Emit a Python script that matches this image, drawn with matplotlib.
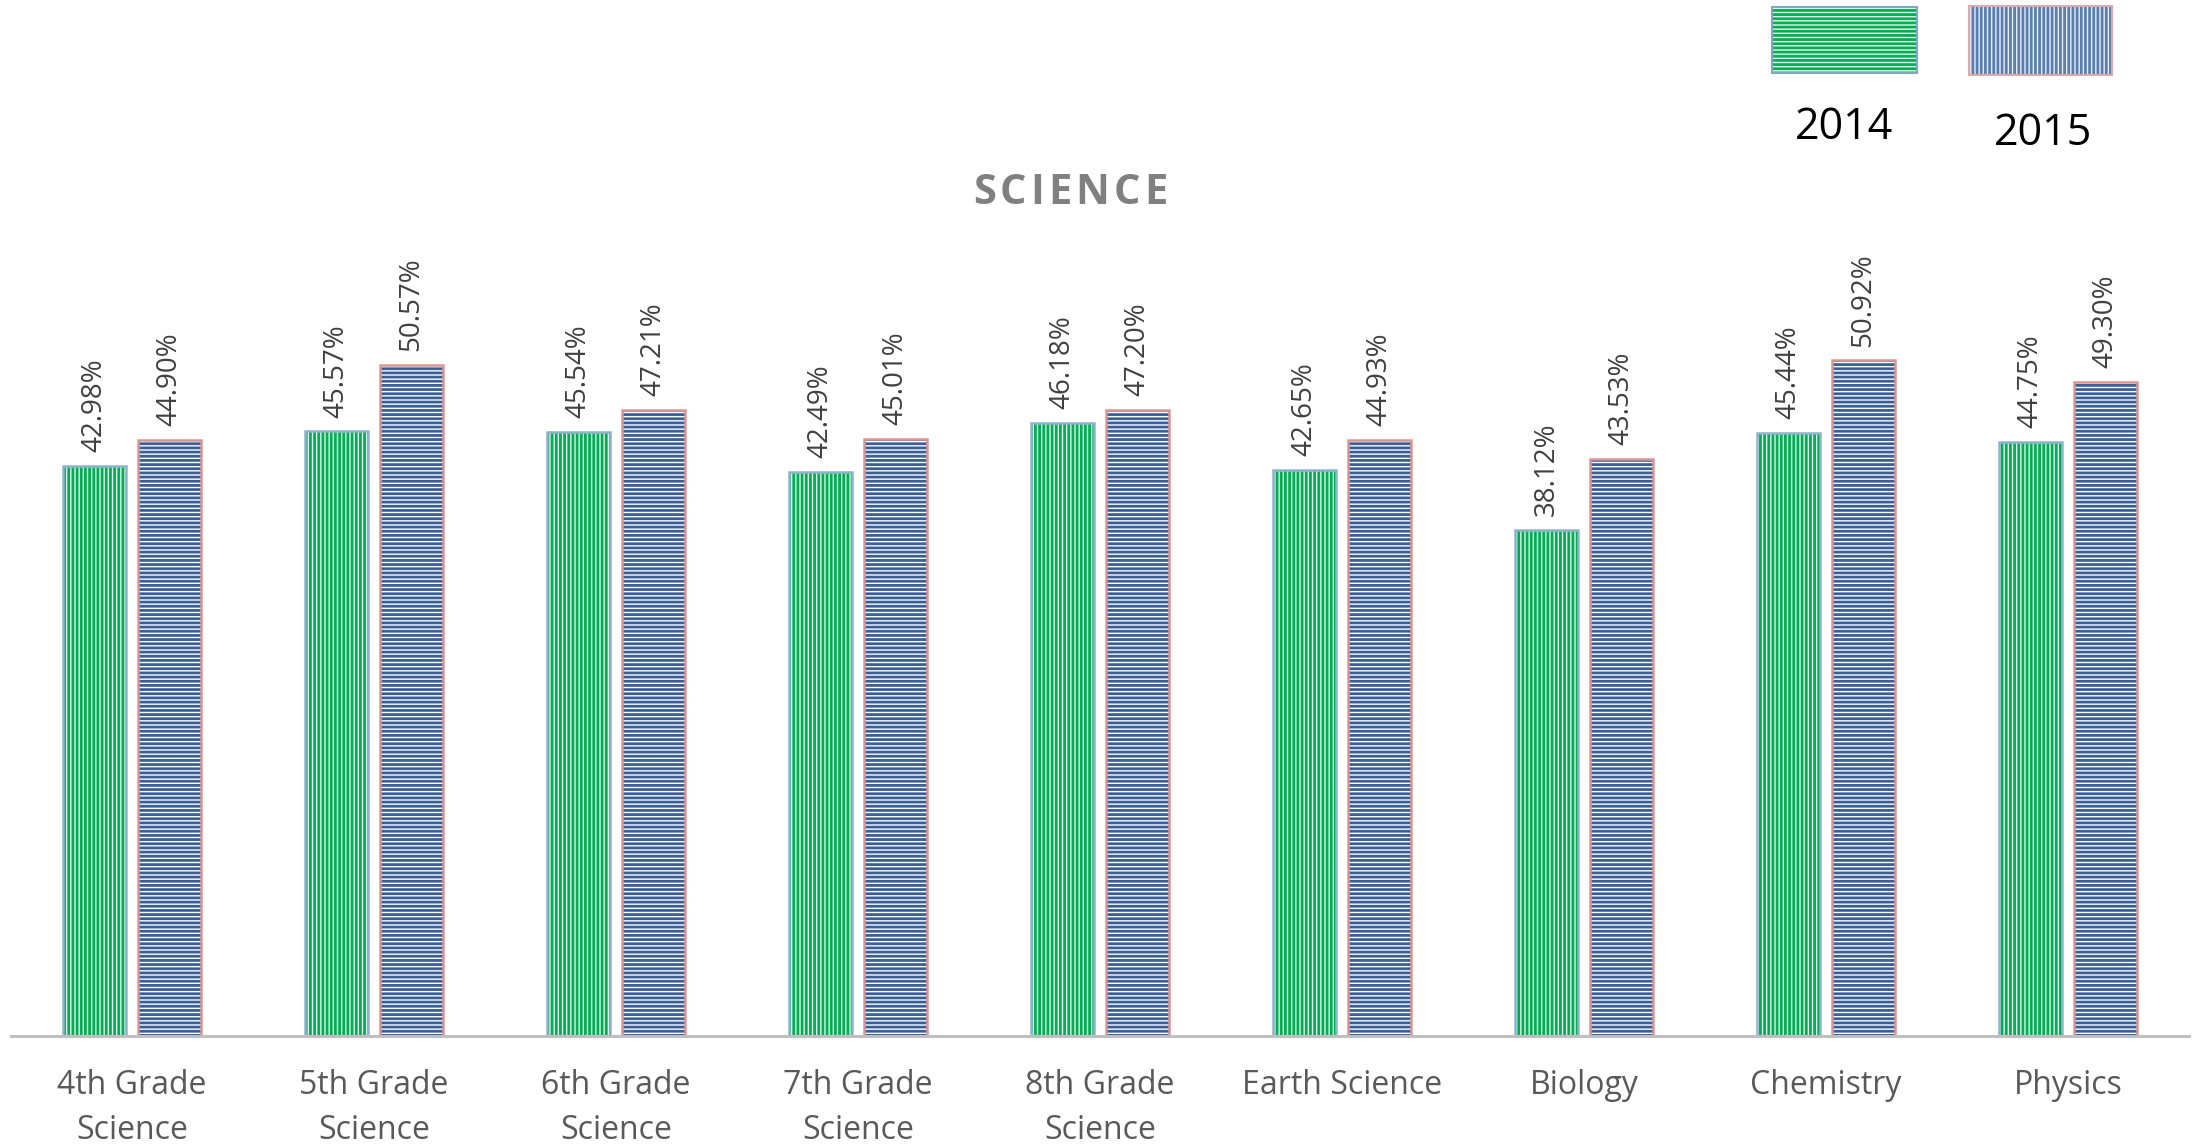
import matplotlib.pyplot as plt
import numpy as np
from matplotlib.patches import Rectangle

plt.rcParams['font.family'] = ['Open Sans', 'DejaVu Sans']
plt.rcParams['hatch.linewidth'] = 2.0

# --- data ---
categories = ['4th Grade\nScience', '5th Grade\nScience', '6th Grade\nScience',
              '7th Grade\nScience', '8th Grade\nScience', 'Earth Science',
              'Biology', 'Chemistry', 'Physics']
pct_2014 = [42.98, 45.57, 45.54, 42.49, 46.18, 42.65, 38.12, 45.44, 44.75]
pct_2015 = [44.90, 50.57, 47.21, 45.01, 47.20, 44.93, 43.53, 50.92, 49.30]
years = ['2014', '2015']
title = 'SCIENCE'

W, H = 2196, 1148
fig = plt.figure(figsize=(W / 100, H / 100), dpi=100)
ax = fig.add_axes([11 / W, 112 / H, 2178 / W, (1036 - 240) / H])

x = np.arange(len(categories))
bw = 0.26
off = 0.155

# 2014: green vertical stripes, light blue border
ax.bar(x - off, pct_2014, bw, facecolor='#e4edf2', edgecolor='#00b050',
       hatch='||||', linewidth=0, zorder=1)
ax.bar(x - off, pct_2014, bw, fill=False, edgecolor='#8db4cc',
       linewidth=1.8, zorder=1.5)
# 2015: blue horizontal stripes, pink border
ax.bar(x + off, pct_2015, bw, facecolor='white', edgecolor='#3a5f96',
       hatch='----', linewidth=0, zorder=1)
ax.bar(x + off, pct_2015, bw, fill=False, edgecolor='#d99594',
       linewidth=1.8, zorder=1.5)

for xi, v in zip(x - off, pct_2014):
    ax.annotate(f'{v:.2f}%', (xi, v), xytext=(0, 10), textcoords='offset points',
                rotation=90, ha='center', va='bottom', fontsize=20, color='#404040')
for xi, v in zip(x + off, pct_2015):
    ax.annotate(f'{v:.2f}%', (xi, v), xytext=(0, 10), textcoords='offset points',
                rotation=90, ha='center', va='bottom', fontsize=20, color='#404040')

ax.set_xlim(-0.5, len(categories) - 0.5)
ax.set_ylim(0, 60)
ax.set_xticks(x)
ax.set_xticklabels(categories, fontsize=23, color='#595959', linespacing=1.45)
ax.tick_params(axis='x', length=0, pad=24)
ax.set_yticks([])
for s in ['top', 'left', 'right']:
    ax.spines[s].set_visible(False)
ax.spines['bottom'].set_color('#bfbfbf')
ax.spines['bottom'].set_linewidth(2.2)

# title with a little letter spacing: place each letter by its measured width
renderer = fig.canvas.get_renderer()
letter_gap = 4  # px between letters
pieces = [fig.text(0, 0, ch, fontsize=30, fontweight='bold', color='#808080',
                   va='center', ha='left') for ch in title]
widths = [p.get_window_extent(renderer).width for p in pieces]
total = sum(widths) + letter_gap * (len(title) - 1)
cx = 1070 - total / 2
for p, w in zip(pieces, widths):
    p.set_position((cx / W, 1 - 193 / H))
    cx += w + letter_gap

# legend swatches (stripes turned the other way)
fig.patches.append(Rectangle((1772 / W, 1 - 73 / H), 145 / W, 66 / H,
                             transform=fig.transFigure, facecolor='#eef4f2',
                             edgecolor='#00b050', hatch='----', linewidth=0))
fig.patches.append(Rectangle((1772 / W, 1 - 73 / H), 145 / W, 66 / H,
                             transform=fig.transFigure, fill=False,
                             edgecolor='#7fa8c0', linewidth=1.5))
fig.patches.append(Rectangle((1969 / W, 1 - 75 / H), 143 / W, 69 / H,
                             transform=fig.transFigure, facecolor='#e8eef6',
                             edgecolor='#5a7eaf', hatch='||||', linewidth=0))
fig.patches.append(Rectangle((1969 / W, 1 - 75 / H), 143 / W, 69 / H,
                             transform=fig.transFigure, fill=False,
                             edgecolor='#e0a8a8', linewidth=1.5))
fig.text(1844 / W, 1 - 128 / H, years[0], ha='center', va='center',
         fontsize=31, color='black')
fig.text(2043 / W, 1 - 134 / H, years[1], ha='center', va='center',
         fontsize=31, color='black')

fig.savefig('out.png', dpi=100)
